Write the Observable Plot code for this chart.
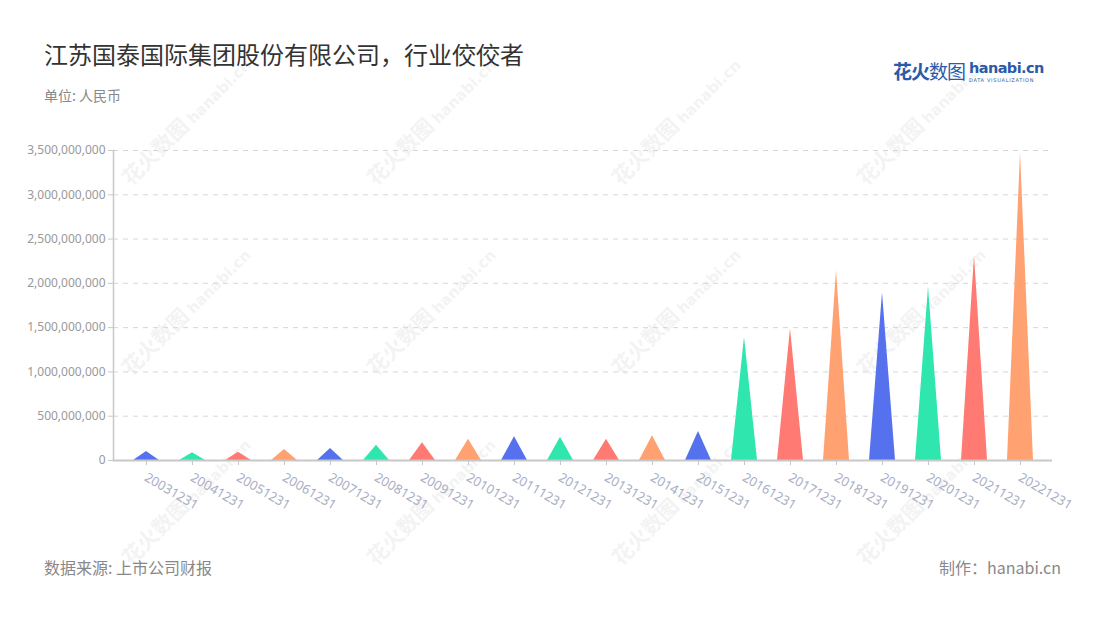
<!DOCTYPE html>
<html><head><meta charset="utf-8">
<script src="https://cdn.jsdelivr.net/npm/d3@7"></script>
<script src="https://cdn.jsdelivr.net/npm/@observablehq/plot@0.6"></script>
<style>
body{margin:0;background:#fff;font-family:"Noto Sans CJK SC","Noto Sans",sans-serif;}
#wrap{position:relative;width:1100px;height:620px;overflow:hidden;background:#fff;}
#title{position:absolute;left:44px;top:38px;font-size:24px;color:#333;line-height:32px;white-space:nowrap;}
#sub{position:absolute;left:44px;top:85px;font-size:14px;color:#888;line-height:20px;}
#src{position:absolute;left:44px;top:555px;font-size:16px;color:#888;line-height:24px;}
#made{position:absolute;right:39px;top:555px;font-size:16px;color:#888;line-height:24px;}
#logo{position:absolute;left:893px;top:58px;white-space:nowrap;}
#logo .cn{font-size:19px;color:#2b5aa8;letter-spacing:-1px;vertical-align:top;line-height:26px;}
#logo .cn b{font-weight:bold;}
#logo .en{display:inline-block;vertical-align:top;margin-left:4px;margin-top:2px;}
#logo .en b{display:block;font-family:"DejaVu Sans",sans-serif;font-size:14.5px;color:#2b5aa8;line-height:17px;letter-spacing:-0.6px;}
#logo .en i{display:block;font-style:normal;font-family:"DejaVu Sans",sans-serif;font-size:5px;color:#2b5aa8;line-height:6px;letter-spacing:0.7px;}
.wm{position:absolute;white-space:nowrap;color:#000;opacity:0.045;font-size:21px;font-weight:bold;transform:translate(-50%,-50%) rotate(-45deg);}
.wm span{font-family:"DejaVu Sans",sans-serif;font-size:15px;margin-left:4px;}
#chart{position:absolute;left:0;top:110px;}
</style></head>
<body><div id="wrap">
<div id="wms"></div>
<div id="chart"></div>
<div id="title">江苏国泰国际集团股份有限公司，行业佼佼者</div>
<div id="sub">单位: 人民币</div>
<div id="logo"><span class="cn"><b>花火</b>数图</span><span class="en"><b>hanabi.cn</b><i>DATA VISUALIZATION</i></span></div>
<div id="src">数据来源: 上市公司财报</div>
<div id="made">制作：hanabi.cn</div>
</div>
<script>
const dates = ["20031231","20041231","20051231","20061231","20071231","20081231","20091231","20101231","20111231","20121231","20131231","20141231","20151231","20161231","20171231","20181231","20191231","20201231","20211231","20221231"];
const values = [1.02e8, 0.87e8, 0.94e8, 1.24e8, 1.35e8, 1.73e8, 2.0e8, 2.4e8, 2.67e8, 2.63e8, 2.4e8, 2.79e8, 3.27e8, 1.392e9, 1.487e9, 2.145e9, 1.893e9, 1.957e9, 2.315e9, 3.47e9];
const palette = ["#5571ee","#2ee6ae","#ff7a72","#ffa170"];
const yTicks = [0, 5e8, 1e9, 1.5e9, 2e9, 2.5e9, 3e9, 3.5e9];

const data = dates.map((d, i) => ({date: d, value: values[i], color: palette[i % palette.length]}));

// watermarks
const wmX = [185, 430, 675, 920], wmY = [120, 310, 500];
const wms = document.getElementById("wms");
for (const y of wmY) for (const x of wmX) {
  const el = document.createElement("div");
  el.className = "wm";
  el.style.left = x + "px"; el.style.top = y + "px";
  el.innerHTML = "花火数图<span>hanabi.cn</span>";
  wms.appendChild(el);
}

const chart = Plot.plot({
  width: 1100,
  height: 420,
  marginTop: 40,
  marginBottom: 70,
  marginLeft: 113,
  marginRight: 48,
  style: {background: "transparent", fontFamily: "'Noto Sans', 'Noto Sans CJK SC', sans-serif", fontSize: "12px"},
  x: {domain: dates, padding: 0, axis: null},
  y: {domain: [0, 3.5e9], axis: null},
  marks: [
    Plot.gridY(yTicks.slice(1), {stroke: "#d6d6d6", strokeOpacity: 1, strokeDasharray: "5,5"}),
    Plot.frame({anchor: "left", stroke: "#c8c8c8", strokeWidth: 1.5}),
    Plot.axisY({ticks: yTicks, tickFormat: d3.format(","), tickSize: 5, tickPadding: 3, stroke: "#c8c8c8", fill: "#999", fontSize: 12, label: null}),
    Plot.barY(data, {x: "date", y: "value", fill: "color", insetLeft: 10, insetRight: 10}),
    Plot.ruleY([0], {stroke: "#c8c8c8", strokeWidth: 2}),
    Plot.axisX({tickRotate: 30, tickSize: 5, tickPadding: 4, stroke: "#c8c8c8", fill: "#a9aec4", fontSize: 13, label: null, textStroke: null}),
  ]
});

// shift x tick labels slightly to match reference placement
d3.select(chart).select('g[aria-label="x-axis tick label"]')
  .attr("transform", function() { return (d3.select(this).attr("transform") || "") + " translate(-1,7)"; });

// turn each bar into a triangle (pictorial bar)
d3.select(chart).selectAll('g[aria-label="bar"] rect').each(function() {
  const r = d3.select(this);
  const x = +r.attr("x"), y = +r.attr("y"), w = +r.attr("width"), h = +r.attr("height");
  d3.select(this.parentNode).append("path")
    .attr("d", `M${x},${y + h}L${x + w / 2},${y}L${x + w},${y + h}Z`)
    .attr("fill", r.attr("fill"));
  r.remove();
});

document.getElementById("chart").appendChild(chart);
</script>
</body></html>
